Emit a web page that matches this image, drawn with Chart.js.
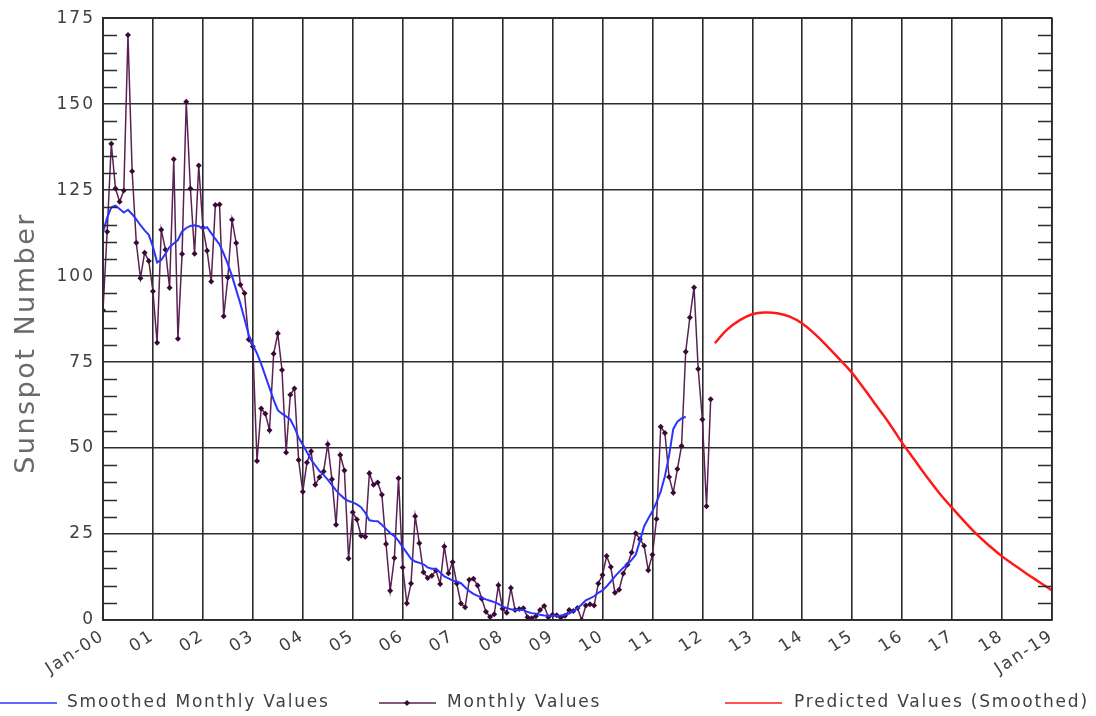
<!DOCTYPE html>
<html>
<head>
<meta charset="utf-8">
<script src="https://cdn.jsdelivr.net/npm/chart.js@4"></script>
<style>
  html, body { margin: 0; padding: 0; background: #fff; }
  canvas { display: block; }
</style>
</head>
<body>
<canvas id="graficoManchas" width="1096" height="716"></canvas>
<script>
// Monthly sunspot numbers, one per month starting Jan 2000 (through Mar 2012)
const monthlyValues = [
  90.1, 112.9, 138.5, 125.5, 121.6, 124.9, 170.1, 130.5, 109.7, 99.4, 106.8, 104.4,
  95.6, 80.6, 113.5, 107.7, 96.6, 134.0, 81.8, 106.4, 150.7, 125.5, 106.5, 132.2,
  114.1, 107.4, 98.4, 120.7, 120.8, 88.3, 99.6, 116.4, 109.6, 97.5, 95.0, 81.6,
  79.5, 46.2, 61.5, 60.0, 55.2, 77.4, 83.3, 72.7, 48.7, 65.5, 67.3, 46.5,
  37.3, 45.8, 49.1, 39.3, 41.5, 43.2, 51.1, 40.9, 27.7, 48.0, 43.5, 17.9,
  31.3, 29.2, 24.5, 24.2, 42.7, 39.3, 40.0, 36.4, 22.1, 8.5, 18.0, 41.2,
  15.3, 4.9, 10.6, 30.2, 22.3, 13.9, 12.2, 12.9, 14.4, 10.5, 21.4, 13.6,
  16.9, 10.6, 4.8, 3.7, 11.7, 12.0, 10.0, 6.2, 2.4, 0.9, 1.7, 10.1,
  3.3, 2.1, 9.3, 2.9, 3.2, 3.4, 0.8, 0.5, 1.1, 2.9, 4.1, 0.8,
  1.5, 1.4, 0.7, 1.2, 2.9, 2.6, 3.5, 0.0, 4.2, 4.6, 4.2, 10.6,
  13.1, 18.6, 15.4, 7.9, 8.8, 13.5, 16.1, 19.6, 25.2, 23.5, 21.6, 14.5,
  19.0, 29.4, 56.2, 54.4, 41.6, 37.0, 43.9, 50.6, 78.0, 88.0, 96.7, 73.0,
  58.3, 33.1, 64.2
];

// Smoothed monthly values, starting Jan 2000 (through Sep 2011)
const smoothedValues = [
  112.7, 117.0, 120.0, 120.5, 119.5, 118.5, 119.3, 118.0, 116.5, 114.8, 113.3, 112.0,
  108.5, 104.0, 104.7, 106.5, 108.5, 109.5, 110.5, 113.0, 114.0, 114.6, 114.8, 114.5,
  113.8, 114.2, 112.5, 110.8, 109.2, 106.5, 103.5, 100.0, 96.0, 92.0, 87.5, 83.0,
  80.0, 77.5, 74.5, 71.0, 67.5, 64.0, 61.0, 60.0, 59.2, 58.3, 56.0, 53.0,
  51.0, 48.8, 46.6, 45.0, 43.3, 42.2, 40.8, 39.2, 37.7, 36.4, 35.3, 34.6,
  34.2, 33.6, 32.8, 31.2, 29.0, 28.8, 28.7, 27.7, 26.5, 25.3, 24.4, 23.0,
  21.2, 19.5, 17.8, 17.0, 16.6, 16.2, 15.3, 14.9, 14.9, 13.8, 12.7, 12.1,
  11.5, 11.2, 10.7, 9.5, 8.4, 7.6, 7.0, 6.5, 6.0, 5.6, 5.2, 4.7,
  3.9, 3.5, 3.1, 2.9, 2.9, 2.9, 2.3, 2.0, 1.8, 1.5, 1.3, 1.2,
  1.2, 1.2, 1.3, 1.5, 1.9, 2.6, 3.4, 4.5, 5.7, 6.3, 6.9, 7.9,
  8.6, 9.8, 11.2, 12.7, 14.0, 15.2, 16.2, 17.5, 19.0, 23.0, 27.2, 29.5,
  31.6, 34.3, 37.4, 41.8, 47.8, 55.5, 57.7, 58.6, 59.1
];

// Predicted (smoothed) values, month index counted from Jan 2000
const predictedMonths = [
  147, 150, 153, 156, 159, 162, 165, 168, 171, 174, 177, 180, 183, 186,
  189, 192, 195, 198, 201, 204, 207, 210, 213, 216, 219, 222, 225, 228
];
const predictedValues = [
  80.5, 84.5, 87.2, 88.9, 89.4, 89.2, 88.2, 86.2, 83.2, 79.6, 75.8, 71.8, 67.0, 62.0,
  57.0, 51.5, 46.5, 41.5, 36.8, 32.6, 28.6, 24.8, 21.5, 18.5, 15.9, 13.4, 11.0, 8.6
];

const yearLabels = ['Jan-00', '01', '02', '03', '04', '05', '06', '07', '08', '09',
  '10', '11', '12', '13', '14', '15', '16', '17', '18', 'Jan-19'];

const FUENTE = "'DejaVu Sans', sans-serif";
const COLOR_TEXTO = '#404040';
const COLOR_REJILLA = '#2b2b2b';

const seriesInfo = [
  { label: 'Smoothed Monthly Values', color: '#2a35ff', marker: false, x: 0, textX: 67 },
  { label: 'Monthly Values', color: '#5a2152', marker: true, x: 379, textX: 447 },
  { label: 'Predicted Values (Smoothed)', color: '#ff1a1a', marker: false, x: 725, textX: 794 }
];

// wider letter spacing for every label drawn by the chart
const espaciado = {
  id: 'espaciado',
  beforeDraw(chart) { chart.ctx.letterSpacing = '2px'; }
};

// short inner ticks every 5 units on both vertical edges, frame and axis title
const marcasMenores = {
  id: 'marcasMenores',
  afterDraw(chart) {
    const { ctx, chartArea } = chart;
    const yScale = chart.scales.y;
    ctx.save();
    ctx.strokeStyle = COLOR_REJILLA;
    ctx.lineWidth = 1.6;
    for (let v = 5; v < 175; v += 5) {
      if (v % 25 === 0) continue;
      const y = Math.round(yScale.getPixelForValue(v)) + 0.5;
      ctx.beginPath();
      ctx.moveTo(chartArea.left, y);
      ctx.lineTo(chartArea.left + 14, y);
      ctx.moveTo(chartArea.right - 14, y);
      ctx.lineTo(chartArea.right, y);
      ctx.stroke();
    }
    ctx.strokeRect(chartArea.left, chartArea.top, chartArea.right - chartArea.left, chartArea.bottom - chartArea.top);

    // y axis title
    ctx.translate(27, 343);
    ctx.rotate(-Math.PI / 2);
    ctx.font = '27px ' + FUENTE;
    ctx.letterSpacing = '2.5px';
    ctx.fillStyle = '#6a6a6a';
    ctx.textAlign = 'center';
    ctx.textBaseline = 'middle';
    ctx.fillText('Sunspot Number', 0, 0);
    ctx.restore();
  }
};

// legend spread across the bottom of the canvas
const leyenda = {
  id: 'leyenda',
  afterDraw(chart) {
    const ctx = chart.ctx;
    const y = 703;
    ctx.save();
    ctx.font = '17px ' + FUENTE;
    ctx.letterSpacing = '1.8px';
    ctx.textBaseline = 'middle';
    seriesInfo.forEach(s => {
      ctx.strokeStyle = s.color;
      ctx.lineWidth = 1.6;
      ctx.beginPath();
      ctx.moveTo(s.x, y);
      ctx.lineTo(s.x + 57, y);
      ctx.stroke();
      if (s.marker) {
        ctx.fillStyle = '#3a0a36';
        ctx.beginPath();
        ctx.moveTo(s.x + 28, y - 3);
        ctx.lineTo(s.x + 31, y);
        ctx.lineTo(s.x + 28, y + 3);
        ctx.lineTo(s.x + 25, y);
        ctx.closePath();
        ctx.fill();
      }
      ctx.fillStyle = COLOR_TEXTO;
      ctx.fillText(s.label, s.textX, y);
    });
    ctx.restore();
  }
};

const ctx = document.getElementById('graficoManchas').getContext('2d');
new Chart(ctx, {
  type: 'line',
  data: {
    datasets: [
      {
        label: seriesInfo[0].label,
        data: smoothedValues.map((v, i) => ({ x: i, y: v })),
        borderColor: seriesInfo[0].color,
        borderWidth: 2,
        pointRadius: 0,
        tension: 0,
        order: 1
      },
      {
        label: seriesInfo[1].label,
        data: monthlyValues.map((v, i) => ({ x: i, y: v })),
        borderColor: seriesInfo[1].color,
        borderWidth: 1.5,
        pointStyle: 'rectRot',
        pointRadius: 3,
        pointBackgroundColor: '#3a0a36',
        pointBorderColor: '#3a0a36',
        pointBorderWidth: 0,
        tension: 0,
        order: 2
      },
      {
        label: seriesInfo[2].label,
        data: predictedMonths.map((m, i) => ({ x: m, y: predictedValues[i] })),
        borderColor: seriesInfo[2].color,
        borderWidth: 2.5,
        pointRadius: 0,
        tension: 0.4,
        order: 0
      }
    ]
  },
  options: {
    responsive: false,
    animation: false,
    layout: { padding: { top: 13, right: 44, left: 0, bottom: 0 } },
    plugins: {
      legend: { display: false },
      tooltip: { enabled: false }
    },
    scales: {
      x: {
        type: 'linear',
        min: 0,
        max: 228,
        afterFit(scale) { scale.height = 96; },
        afterBuildTicks(scale) {
          scale.ticks = yearLabels.map((_, i) => ({ value: i * 12 }));
        },
        grid: { color: COLOR_REJILLA, lineWidth: 1.6, drawTicks: false },
        border: { color: COLOR_REJILLA, width: 1.6 },
        ticks: {
          autoSkip: false,
          minRotation: 33,
          maxRotation: 33,
          padding: 6,
          color: COLOR_TEXTO,
          font: { family: FUENTE, size: 17 },
          callback: v => yearLabels[Math.round(v / 12)]
        }
      },
      y: {
        min: 0,
        max: 175,
        afterFit(scale) { scale.width = 103; },
        grid: { color: COLOR_REJILLA, lineWidth: 1.6, drawTicks: false },
        border: { color: COLOR_REJILLA, width: 1.6 },
        ticks: {
          stepSize: 25,
          padding: 8,
          color: COLOR_TEXTO,
          font: { family: FUENTE, size: 17 }
        }
      }
    }
  },
  plugins: [espaciado, marcasMenores, leyenda]
});
</script>
</body>
</html>
